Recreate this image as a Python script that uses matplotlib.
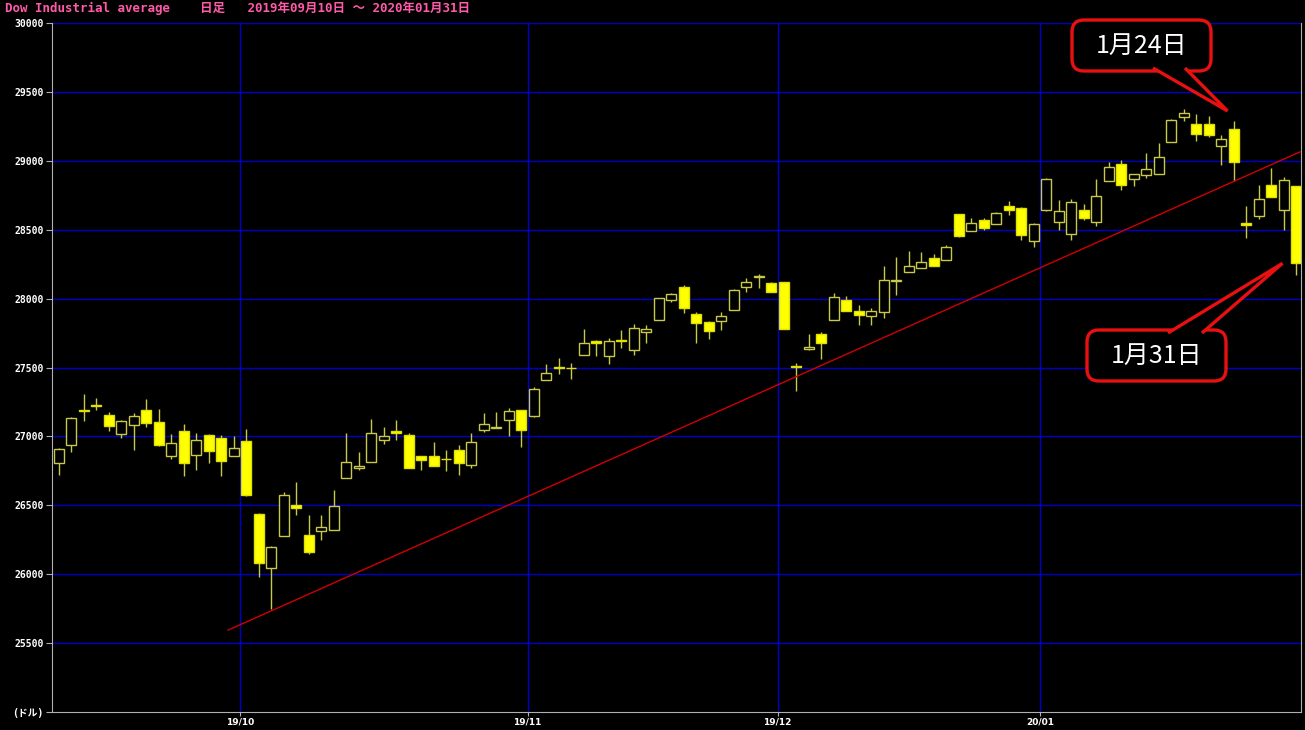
import numpy as np
import pandas as pd
import matplotlib
matplotlib.use('Agg')
import matplotlib.pyplot as plt
from matplotlib.patches import FancyBboxPatch, Polygon
from matplotlib.transforms import IdentityTransform

# trading days, 2019-09-10 .. 2020-01-31 (NYSE holidays removed)
holidays = ['2019-11-28', '2019-12-25', '2020-01-01', '2020-01-20']
dates = pd.bdate_range('2019-09-10', '2020-01-31').drop(pd.to_datetime(holidays))

# daily OHLC
opens = [26810, 26935, 27190, 27225, 27155, 27014, 27080, 27190, 27104, 26855,
         27040, 26867, 27010, 26988, 26855, 26966, 26435, 26046, 26276, 26505,
         26288, 26312, 26324, 26698, 26768, 26814, 26976, 27036, 27010, 26855,
         26858, 26838, 26901, 26795, 27043, 27058, 27116, 27193, 27147, 27406,
         27500, 27495, 27594, 27690, 27582, 27700, 27626, 27756, 27848, 27993,
         28085, 27889, 27829, 27836, 27920, 28082, 28157, 28111, 28118, 27510,
         27636, 27745, 27843, 27988, 27908, 27872, 27901, 28125, 28193, 28222,
         28294, 28282, 28612, 28492, 28571, 28542, 28675, 28656, 28415, 28645,
         28556, 28469, 28640, 28556, 28850, 28978, 28867, 28899, 28906, 29133,
         29316, 29268, 29266, 29111, 29232, 28545, 28597, 28821, 28645, 28814]
highs = [26915, 27140, 27306, 27278, 27176, 27120, 27169, 27275, 27200, 27017,
         27089, 27024, 27019, 27012, 27000, 27053, 26445, 26205, 26597, 26667,
         26432, 26432, 26614, 27024, 26884, 27126, 27065, 27121, 27024, 26855,
         26957, 26903, 26940, 27024, 27169, 27174, 27205, 27193, 27358, 27522,
         27570, 27534, 27780, 27696, 27715, 27775, 27819, 27807, 28005, 28041,
         28101, 27906, 27836, 27906, 28072, 28150, 28181, 28121, 28120, 27535,
         27740, 27757, 28041, 28017, 27957, 27933, 28234, 28299, 28342, 28335,
         28325, 28390, 28612, 28583, 28583, 28631, 28709, 28663, 28552, 28872,
         28717, 28722, 28688, 28870, 28990, 29007, 28906, 29056, 29128, 29302,
         29374, 29341, 29326, 29188, 29292, 28674, 28826, 28947, 28879, 28814]
lows = [26722, 26884, 27110, 27193, 27036, 26988, 26903, 27065, 26928, 26838,
        26710, 26758, 26807, 26715, 26855, 26565, 25981, 25749, 26276, 26428,
        26143, 26251, 26320, 26698, 26754, 26814, 26947, 26971, 26771, 26754,
        26787, 26746, 26717, 26771, 27029, 27058, 27005, 26920, 27140, 27406,
        27454, 27413, 27594, 27582, 27522, 27638, 27589, 27679, 27848, 27973,
        27896, 27679, 27708, 27775, 27920, 28046, 28077, 28046, 27780, 27330,
        27624, 27564, 27843, 27909, 27805, 27805, 27860, 28029, 28193, 28222,
        28234, 28282, 28446, 28492, 28499, 28542, 28607, 28427, 28378, 28633,
        28500, 28428, 28568, 28524, 28850, 28790, 28819, 28874, 28906, 29133,
        29290, 29145, 29171, 28966, 28850, 28440, 28580, 28737, 28495, 28174]
closes = [26909, 27137, 27182, 27219, 27077, 27111, 27147, 27095, 26935, 26950,
          26808, 26971, 26891, 26820, 26917, 26573, 26079, 26201, 26574, 26478,
          26164, 26346, 26497, 26817, 26787, 27025, 27002, 27026, 26770, 26828,
          26788, 26834, 26806, 26958, 27091, 27071, 27187, 27046, 27347, 27462,
          27493, 27493, 27675, 27681, 27691, 27691, 27784, 27782, 28005, 28036,
          27934, 27821, 27766, 27876, 28066, 28122, 28164, 28051, 27783, 27503,
          27650, 27678, 28015, 27910, 27882, 27911, 28132, 28135, 28236, 28267,
          28239, 28377, 28455, 28552, 28515, 28621, 28645, 28462, 28538, 28869,
          28635, 28703, 28584, 28745, 28957, 28824, 28907, 28940, 29030, 29298,
          29348, 29196, 29186, 29160, 28990, 28536, 28723, 28734, 28859, 28256]

# support line drawn on the chart (index, price)
trend_idx = [13.54, 99.3]
trend_val = [25594, 29065]

yticks = [25000, 25500, 26000, 26500, 27000, 27500, 28000, 28500, 29000, 29500, 30000]
ytick_labels = ['(ドル)'] + [str(v) for v in yticks[1:]]

title = 'Dow Industrial average    日足   2019年09月10日 ～ 2020年01月31日'

o = np.array(opens); h = np.array(highs); l = np.array(lows); c = np.array(closes)
x = np.arange(len(dates))

W, H = 1305, 730
fig = plt.figure(figsize=(W / 100, H / 100), dpi=100, facecolor='black')
ax = fig.add_axes([52 / W, (H - 712) / H, (1301 - 52) / W, (712 - 23) / H])
ax.set_facecolor('black')
ax.set_xlim(-0.54, 99.38)
ax.set_ylim(25000, 30000)

# grid
grid_col = '#0000c8'
for v in yticks[1:]:
    ax.axhline(v, color=grid_col, lw=1, zorder=0)
month_start = [i for i in range(1, len(dates)) if dates[i].month != dates[i - 1].month]
for i in month_start:
    ax.axvline(i - 0.5, color=grid_col, lw=1, zorder=0)

# candles
wick_col = '#c8c84a'
down = c < o
ax.vlines(x, l, h, color=wick_col, lw=1, zorder=2)
body_lo = np.minimum(o, c)
body_h = np.maximum(np.abs(c - o), 4)
ax.bar(x[~down], body_h[~down], bottom=body_lo[~down], width=0.8,
       facecolor='black', edgecolor=wick_col, lw=1, zorder=3)
ax.bar(x[down], body_h[down], bottom=body_lo[down], width=0.8,
       facecolor='#ffff00', edgecolor='#e0e000', lw=1, zorder=3)

ax.plot(trend_idx, trend_val, color='#d00000', lw=1, zorder=4)

# axes styling
for s in ['left', 'bottom', 'right']:
    ax.spines[s].set_color('#b0b0b0')
ax.spines['top'].set_visible(False)
ax.set_yticks(yticks)
ax.set_yticklabels(ytick_labels)
ax.set_xticks([i - 0.5 for i in month_start])
ax.set_xticklabels([dates[i].strftime('%y/%m') for i in month_start])
ax.tick_params(axis='y', colors='#b0b0b0', length=4, labelcolor='white', pad=2)
ax.tick_params(axis='x', colors='#b0b0b0', length=3, labelcolor='white', pad=1)
for t in ax.get_yticklabels():
    t.set_family(['DejaVu Sans Mono', 'Noto Sans CJK JP'])
    t.set_fontsize(7)
    t.set_fontweight('bold')
for t in ax.get_xticklabels():
    t.set_family(['DejaVu Sans', 'Noto Sans CJK JP'])
    t.set_fontsize(6.5)
    t.set_fontweight('bold')

fig.text(5 / W, 1 - 8 / H, title, color='#ff5aa8', fontsize=9, fontweight='bold',
         family=['DejaVu Sans Mono', 'Noto Sans CJK JP'], va='center', ha='left')

# callouts (box in pixels, tip at a data point)
def callout(label, box, base, tip_data, from_top):
    x0, ytop, x1, ybot = box
    y0, y1 = H - ybot, H - ytop
    fig.add_artist(FancyBboxPatch((x0, y0), x1 - x0, y1 - y0,
                                  boxstyle='round,pad=0,rounding_size=12',
                                  transform=IdentityTransform(), fc='black',
                                  ec='#e81010', lw=2.4, zorder=5))
    tx, ty = ax.transData.transform(tip_data)
    yb = (y1 - 3) if from_top else (y0 + 3)
    fig.add_artist(Polygon([(base[0], yb), (tx, ty), (base[1], yb)], closed=False,
                           transform=IdentityTransform(), fc='black',
                           ec='#e81010', lw=2.4, zorder=6))
    fig.text((x0 + x1) / 2 / W, (y0 + y1) / 2 / H, label, color='white',
             fontsize=18, family=['Noto Sans CJK JP'], ha='center', va='center',
             zorder=7)

i24 = list(dates).index(pd.Timestamp('2020-01-24'))
i31 = list(dates).index(pd.Timestamp('2020-01-31'))
callout('1月24日', (1072, 20, 1211, 71), (1153, 1185), (i24 - 0.5, highs[i24] + 70), False)
callout('1月31日', (1087, 330, 1226, 381), (1168, 1202), (i31 - 1.1, closes[i31]), True)

fig.savefig('out.png', dpi=100, facecolor='black')
